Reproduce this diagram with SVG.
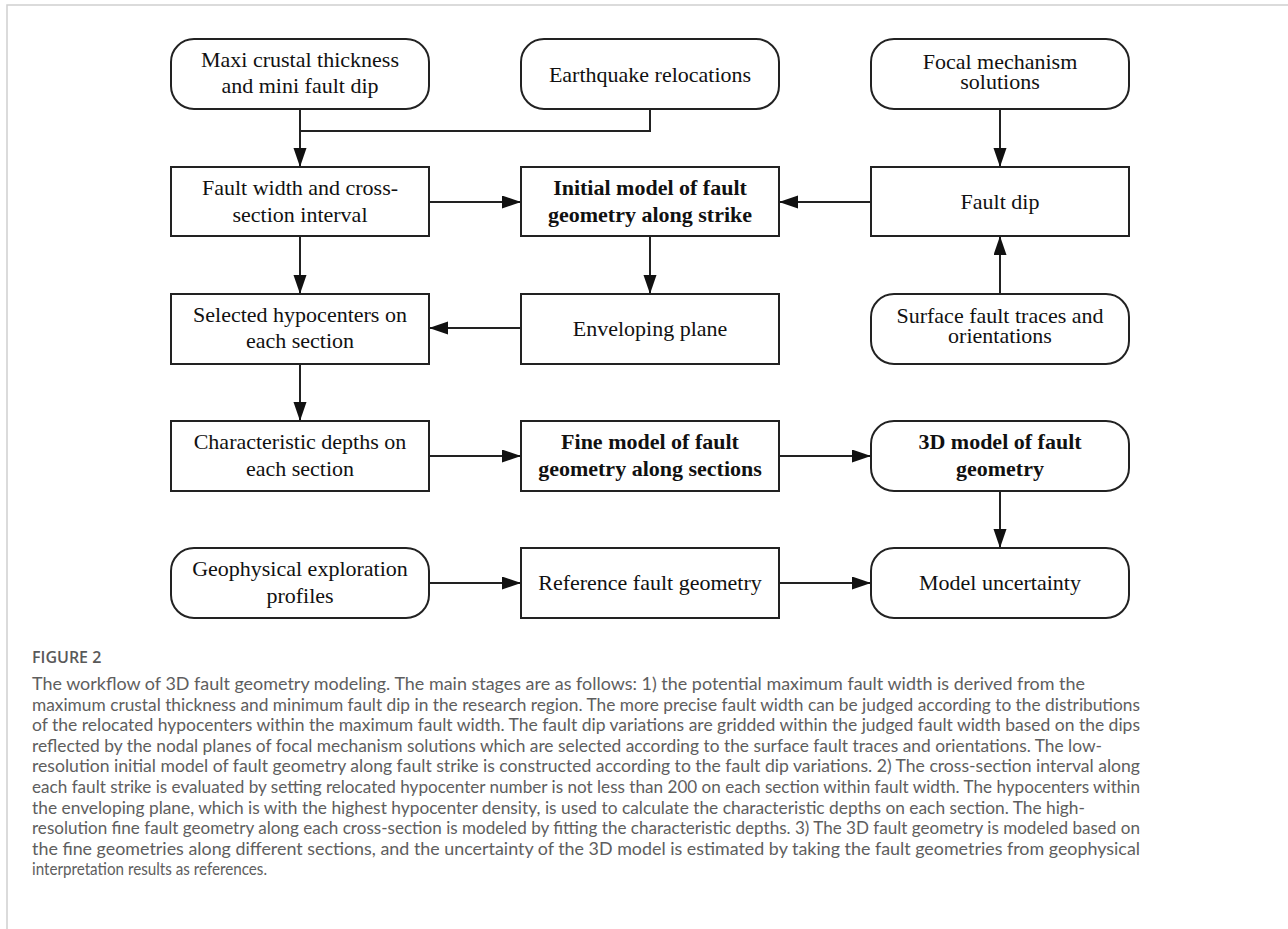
<svg xmlns="http://www.w3.org/2000/svg" width="1288" height="929" viewBox="0 0 1288 929">
<style>
.box{fill:#fff;stroke:#222;stroke-width:2}
.t{font-family:"Liberation Serif","Times New Roman",serif;font-size:22px;fill:#111;text-anchor:middle}
.b{font-weight:bold}
.c{fill:none;stroke:#222;stroke-width:2}
.cap{font-family:Lato,"Open Sans",sans-serif;font-size:16.5px;fill:#5e5e5e}
.fig{font-family:"Open Sans",Lato,sans-serif;font-size:16px;font-weight:600;fill:#595959}
</style>
<defs>
<marker id="ah" markerUnits="userSpaceOnUse" markerWidth="20" markerHeight="14" refX="19" refY="6.5" orient="auto">
<path d="M0,0 L19,6.5 L0,13 z" fill="#111"/>
</marker>
</defs>
<rect x="0" y="0" width="1288" height="929" fill="#fff"/>
<rect x="7" y="5" width="1400" height="1000" fill="none" stroke="#cfcfcf" stroke-width="1.5"/>

<g id="connectors">
<line class="c" x1="300" y1="109" x2="300" y2="167" marker-end="url(#ah)"/>
<polyline class="c" points="650,109 650,131 300,131"/>
<line class="c" x1="1000" y1="109" x2="1000" y2="167" marker-end="url(#ah)"/>
<line class="c" x1="429" y1="202" x2="521" y2="202" marker-end="url(#ah)"/>
<line class="c" x1="871" y1="202" x2="779" y2="202" marker-end="url(#ah)"/>
<line class="c" x1="1000" y1="294" x2="1000" y2="236" marker-end="url(#ah)"/>
<line class="c" x1="650" y1="236" x2="650" y2="294" marker-end="url(#ah)"/>
<line class="c" x1="300" y1="236" x2="300" y2="294" marker-end="url(#ah)"/>
<line class="c" x1="521" y1="328" x2="429" y2="328" marker-end="url(#ah)"/>
<line class="c" x1="300" y1="364" x2="300" y2="421" marker-end="url(#ah)"/>
<line class="c" x1="429" y1="456" x2="521" y2="456" marker-end="url(#ah)"/>
<line class="c" x1="779" y1="456" x2="871" y2="456" marker-end="url(#ah)"/>
<line class="c" x1="1000" y1="491" x2="1000" y2="548" marker-end="url(#ah)"/>
<line class="c" x1="429" y1="583" x2="521" y2="583" marker-end="url(#ah)"/>
<line class="c" x1="779" y1="583" x2="871" y2="583" marker-end="url(#ah)"/>
</g>

<g id="maxi">
<rect class="box" x="171" y="39" width="258" height="70" rx="23" ry="23"/>
<text class="t" x="300" y="67">Maxi crustal thickness</text>
<text class="t" x="300" y="93">and mini fault dip</text>
</g>
<g id="earthquake">
<rect class="box" x="521" y="39" width="258" height="70" rx="23" ry="23"/>
<text class="t" x="650" y="82">Earthquake relocations</text>
</g>
<g id="focal">
<rect class="box" x="871" y="39" width="258" height="70" rx="23" ry="23"/>
<text class="t" x="1000" y="69">Focal mechanism</text>
<text class="t" x="1000" y="88.5">solutions</text>
</g>
<g id="faultwidth">
<rect class="box" x="171" y="167" width="258" height="69"/>
<text class="t" x="300" y="195">Fault width and cross-</text>
<text class="t" x="300" y="222">section interval</text>
</g>
<g id="initial">
<rect class="box" x="521" y="167" width="258" height="69"/>
<text class="t b" x="650" y="195">Initial model of fault</text>
<text class="t b" x="650" y="222">geometry along strike</text>
</g>
<g id="faultdip">
<rect class="box" x="871" y="167" width="258" height="69"/>
<text class="t" x="1000" y="209">Fault dip</text>
</g>
<g id="selected">
<rect class="box" x="171" y="294" width="258" height="70"/>
<text class="t" x="300" y="322">Selected hypocenters on</text>
<text class="t" x="300" y="348">each section</text>
</g>
<g id="enveloping">
<rect class="box" x="521" y="294" width="258" height="70"/>
<text class="t" x="650" y="336">Enveloping plane</text>
</g>
<g id="surface">
<rect class="box" x="871" y="294" width="258" height="70" rx="23" ry="23"/>
<text class="t" x="1000" y="323">Surface fault traces and</text>
<text class="t" x="1000" y="342.5">orientations</text>
</g>
<g id="characteristic">
<rect class="box" x="171" y="421" width="258" height="70"/>
<text class="t" x="300" y="449">Characteristic depths on</text>
<text class="t" x="300" y="476">each section</text>
</g>
<g id="fine">
<rect class="box" x="521" y="421" width="258" height="70"/>
<text class="t b" x="650" y="449">Fine model of fault</text>
<text class="t b" x="650" y="476">geometry along sections</text>
</g>
<g id="model3d">
<rect class="box" x="871" y="421" width="258" height="70" rx="23" ry="23"/>
<text class="t b" x="1000" y="449">3D model of fault</text>
<text class="t b" x="1000" y="476">geometry</text>
</g>
<g id="geophysical">
<rect class="box" x="171" y="548" width="258" height="70" rx="23" ry="23"/>
<text class="t" x="300" y="576">Geophysical exploration</text>
<text class="t" x="300" y="603">profiles</text>
</g>
<g id="reference">
<rect class="box" x="521" y="548" width="258" height="70"/>
<text class="t" x="650" y="590">Reference fault geometry</text>
</g>
<g id="uncertainty">
<rect class="box" x="871" y="548" width="258" height="70" rx="23" ry="23"/>
<text class="t" x="1000" y="590">Model uncertainty</text>
</g>

<g id="caption">
<text class="fig" x="32" y="663">FIGURE 2</text>
<text class="cap" x="32" y="690" textLength="1053" lengthAdjust="spacingAndGlyphs">The workflow of 3D fault geometry modeling. The main stages are as follows: 1) the potential maximum fault width is derived from the</text>
<text class="cap" x="32" y="710.6" textLength="1108" lengthAdjust="spacingAndGlyphs">maximum crustal thickness and minimum fault dip in the research region. The more precise fault width can be judged according to the distributions</text>
<text class="cap" x="32" y="731.2" textLength="1108" lengthAdjust="spacingAndGlyphs">of the relocated hypocenters within the maximum fault width. The fault dip variations are gridded within the judged fault width based on the dips</text>
<text class="cap" x="32" y="751.8" textLength="1070" lengthAdjust="spacingAndGlyphs">reflected by the nodal planes of focal mechanism solutions which are selected according to the surface fault traces and orientations. The low-</text>
<text class="cap" x="32" y="772.4" textLength="1108" lengthAdjust="spacingAndGlyphs">resolution initial model of fault geometry along fault strike is constructed according to the fault dip variations. 2) The cross-section interval along</text>
<text class="cap" x="32" y="793" textLength="1108" lengthAdjust="spacingAndGlyphs">each fault strike is evaluated by setting relocated hypocenter number is not less than 200 on each section within fault width. The hypocenters within</text>
<text class="cap" x="32" y="813.6" textLength="1053" lengthAdjust="spacingAndGlyphs">the enveloping plane, which is with the highest hypocenter density, is used to calculate the characteristic depths on each section. The high-</text>
<text class="cap" x="32" y="834.2" textLength="1108" lengthAdjust="spacingAndGlyphs">resolution fine fault geometry along each cross-section is modeled by fitting the characteristic depths. 3) The 3D fault geometry is modeled based on</text>
<text class="cap" x="32" y="854.8" textLength="1108" lengthAdjust="spacingAndGlyphs">the fine geometries along different sections, and the uncertainty of the 3D model is estimated by taking the fault geometries from geophysical</text>
<text class="cap" x="32" y="875.4" textLength="235" lengthAdjust="spacingAndGlyphs">interpretation results as references.</text>
</g>
</svg>
